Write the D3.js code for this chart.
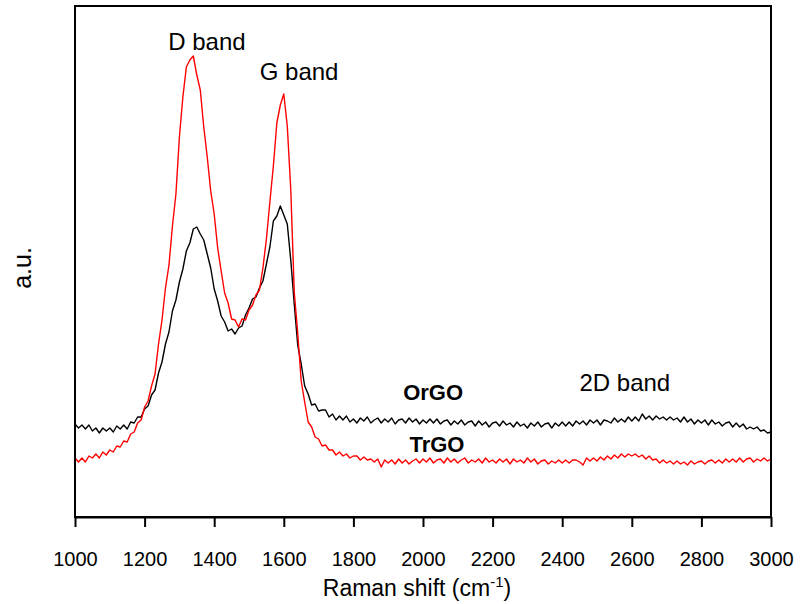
<!DOCTYPE html>
<html>
<head>
<meta charset="utf-8">
<script src="https://cdn.jsdelivr.net/npm/d3@7"></script>
<style>
  html, body { margin: 0; padding: 0; background: #fff; }
  svg { display: block; }
  text { font-family: Arial, "Liberation Sans", sans-serif; fill: #000; }
</style>
</head>
<body>
<svg id="chart" width="800" height="604"></svg>
<script>
// Raman shift grid (cm^-1), one sample every 10 cm^-1 from 1000 to 3000
const shiftStart = 1000, shiftEnd = 3000, shiftStep = 10;

// Intensity (a.u.) of the reduced graphene oxide samples
const orgo = [
  93, 89, 92, 88, 92, 86, 89, 84, 89, 86,
  89, 85, 91, 88, 92, 88, 95, 94, 100, 100,
  108, 111, 122, 127, 144, 155, 173, 185, 206, 217,
  235, 248, 266, 274, 288, 290, 283, 277, 263, 249,
  228, 216, 201, 195, 186, 188, 183, 189, 191, 202,
  209, 218, 220, 229, 236, 253, 270, 296, 301, 311,
  302, 293, 257, 213, 172, 153, 131, 123, 112, 113,
  106, 107, 107, 100, 103, 97, 101, 97, 101, 95,
  98, 94, 99, 96, 100, 94, 97, 99, 94, 98,
  95, 99, 93, 97, 98, 94, 99, 95, 98, 93,
  97, 94, 98, 94, 98, 93, 96, 97, 92, 96,
  93, 97, 92, 95, 96, 91, 96, 92, 95, 90,
  94, 95, 91, 96, 92, 94, 90, 95, 91, 93,
  89, 94, 91, 95, 90, 93, 94, 89, 94, 91,
  95, 91, 95, 91, 96, 93, 96, 92, 97, 94,
  97, 92, 97, 96, 94, 99, 95, 98, 95, 100,
  96, 100, 96, 103, 98, 101, 97, 101, 98, 100,
  97, 100, 97, 99, 95, 100, 95, 98, 93, 97,
  94, 97, 92, 97, 93, 95, 91, 94, 95, 90,
  94, 90, 93, 88, 90, 88, 90, 86, 87, 84,
  85
];
const trgo = [
  59, 55, 59, 55, 61, 59, 63, 59, 65, 62,
  67, 65, 71, 70, 76, 75, 83, 85, 94, 97,
  110, 116, 131, 143, 173, 197, 229, 252, 291, 323,
  380, 420, 450, 457, 461, 442, 427, 390, 360, 326,
  303, 269, 246, 224, 214, 198, 197, 190, 198, 197,
  207, 212, 222, 227, 249, 278, 315, 351, 394, 412,
  423, 391, 328, 225, 184, 136, 115, 95, 90, 80,
  78, 71, 72, 67, 67, 62, 65, 61, 63, 59,
  61, 61, 57, 60, 57, 58, 55, 58, 50, 57,
  54, 57, 53, 58, 54, 57, 53, 56, 58, 54,
  58, 55, 59, 54, 57, 58, 54, 59, 55, 58,
  54, 57, 59, 54, 57, 55, 58, 54, 59, 55,
  57, 54, 58, 55, 58, 53, 58, 55, 57, 54,
  59, 55, 58, 53, 56, 57, 53, 56, 54, 57,
  54, 57, 54, 57, 57, 55, 52, 59, 56, 59,
  56, 60, 57, 61, 58, 62, 59, 63, 60, 63,
  61, 63, 60, 62, 58, 61, 57, 58, 54, 57,
  54, 56, 53, 56, 53, 55, 52, 56, 53, 55,
  56, 53, 56, 57, 54, 57, 54, 58, 55, 58,
  55, 59, 55, 58, 59, 55, 58, 56, 59, 56,
  58
];
const xTicks = [1000, 1200, 1400, 1600, 1800, 2000, 2200, 2400, 2600, 2800, 3000];

const shifts = d3.range(shiftStart, shiftEnd + shiftStep / 2, shiftStep);

const svg = d3.select("#chart");
const margin = { left: 75, right: 29, top: 6, bottom: 87 };
const W = 800, H = 604;
const x = d3.scaleLinear().domain([1000, 3000]).range([margin.left, W - margin.right]);
const y = d3.scaleLinear().domain([0, 511]).range([H - margin.bottom, margin.top]);

const line = d3.line()
  .x((d, i) => x(shifts[i]))
  .y(d => y(d));

// spectra
svg.append("path").datum(orgo)
  .attr("d", line).attr("fill", "none")
  .attr("stroke", "#000").attr("stroke-width", 1.4).attr("stroke-linejoin", "round");
svg.append("path").datum(trgo)
  .attr("d", line).attr("fill", "none")
  .attr("stroke", "#ff0000").attr("stroke-width", 1.4).attr("stroke-linejoin", "round");

// frame
svg.append("rect")
  .attr("x", x(1000)).attr("y", margin.top)
  .attr("width", x(3000) - x(1000)).attr("height", y(0) - margin.top)
  .attr("fill", "none").attr("stroke", "#000").attr("stroke-width", 2);

// bottom axis
const xAxis = d3.axisBottom(x).tickValues(xTicks).tickFormat(d3.format("d"))
  .tickSizeInner(10).tickSizeOuter(0).tickPadding(25);
const gx = svg.append("g").attr("transform", `translate(0,${y(0)})`).call(xAxis);
gx.select(".domain").attr("stroke", "#000").attr("stroke-width", 2);
gx.selectAll(".tick line").attr("stroke", "#000").attr("stroke-width", 2);
gx.selectAll(".tick text")
  .attr("font-family", "Arial, 'Liberation Sans', sans-serif")
  .attr("font-size", 20).attr("fill", "#000");

// axis titles
const xt = svg.append("text")
  .attr("x", (x(1000) + x(3000)) / 2 - 6).attr("y", 596)
  .attr("text-anchor", "middle").attr("font-size", 23);
xt.append("tspan").text("Raman shift (cm");
xt.append("tspan").attr("font-size", 15).attr("dy", -9).text("-1");
xt.append("tspan").attr("dy", 9).text(")");

svg.append("text")
  .attr("transform", "translate(31,268) rotate(-90)")
  .attr("text-anchor", "middle").attr("font-size", 25).text("a.u.");

// band and sample labels
const notes = [
  { t: "D band", sx: 1379, v: 467, bold: false },
  { t: "G band", sx: 1644, v: 437, bold: false },
  { t: "2D band", sx: 2580, v: 126, bold: false },
  { t: "OrGO", sx: 2029, v: 117, bold: true },
  { t: "TrGO", sx: 2040, v: 65, bold: true }
];
svg.selectAll("text.note").data(notes).enter().append("text")
  .attr("class", "note")
  .attr("x", d => x(d.sx)).attr("y", d => y(d.v))
  .attr("text-anchor", "middle")
  .attr("font-size", d => d.bold ? 22 : 24)
  .attr("font-weight", d => d.bold ? "bold" : "normal")
  .text(d => d.t);
</script>
</body>
</html>
